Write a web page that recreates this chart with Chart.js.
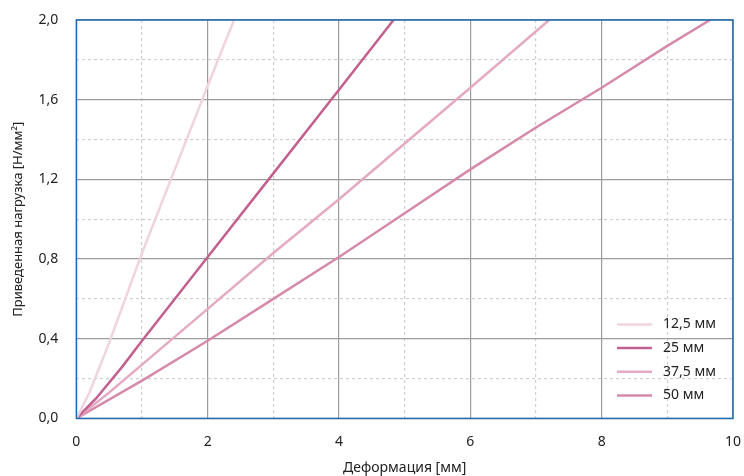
<!DOCTYPE html>
<html>
<head>
<meta charset="utf-8">
<script src="https://cdn.jsdelivr.net/npm/chart.js@4"></script>
<style>
    body { margin: 0; background: #fff; }
    #wrap { width: 744px; height: 476px; }
</style>
</head>
<body>
<div id="wrap"><canvas id="chart"></canvas></div>
<script>
let seriesNames = ['12,5 мм', '25 мм', '37,5 мм', '50 мм'];
let seriesColors = ['#f0d3df', '#c2608f', '#e4aac4', '#d68aab'];

let x125 = [0, 0.2, 0.5, 1, 1.5, 2, 2.4];
let y125 = [0, 0.13, 0.38, 0.83, 1.25, 1.67, 2.0];

let x25 = [0, 0.3, 0.7, 1, 2, 3, 4, 4.83];
let y25 = [0, 0.1, 0.26, 0.39, 0.81, 1.23, 1.65, 2.0];

let x375 = [0, 0.5, 1, 2, 3, 4, 5, 6, 7.2];
let y375 = [0, 0.13, 0.27, 0.55, 0.83, 1.1, 1.38, 1.66, 2.0];

let x50 = [0, 1, 2, 3, 4, 5, 6, 7, 8, 9, 9.65];
let y50 = [0, 0.19, 0.39, 0.6, 0.81, 1.03, 1.25, 1.46, 1.66, 1.87, 2.0];

let xTitle = 'Деформация [мм]';
let yTitle = 'Приведенная нагрузка [Н/мм²]';

const FONT = "'Noto Sans', sans-serif";


function toPoints(xs, ys) {
    let pts = [];
    for (let i = 0; i < xs.length; i++) {
        pts.push({ x: xs[i], y: ys[i] });
    }
    return pts;
}


function getData() {
    let all = [[x125, y125], [x25, y25], [x375, y375], [x50, y50]];
    let datasets = [];
    for (let s = 0; s < all.length; s++) {
        datasets.push({
            label: seriesNames[s],
            data: toPoints(all[s][0], all[s][1]),
            borderColor: seriesColors[s],
            borderWidth: 2.5,
            pointRadius: 0,
            tension: 0,
            fill: false
        });
    }
    return { datasets: datasets };
}


// blue frame round the plot area
const framePlugin = {
    id: 'frame',
    afterDatasetsDraw(chart) {
        const a = chart.chartArea;
        const ctx = chart.ctx;
        ctx.save();
        ctx.strokeStyle = '#1f6cb0';
        ctx.lineWidth = 1.5;
        ctx.strokeRect(a.left, a.top, a.right - a.left, a.bottom - a.top);
        ctx.restore();
    }
};


// legend inside the plot, bottom right
const innerLegend = {
    id: 'innerLegend',
    afterDraw(chart) {
        const a = chart.chartArea;
        const ctx = chart.ctx;
        const sets = chart.data.datasets;
        ctx.save();
        ctx.font = '14px ' + FONT;
        ctx.textBaseline = 'middle';
        ctx.fillStyle = '#222';
        for (let i = 0; i < sets.length; i++) {
            let y = a.bottom - 94 + i * 23.7;
            let x0 = a.right - 116;
            ctx.strokeStyle = sets[i].borderColor;
            ctx.lineWidth = 2.5;
            ctx.beginPath();
            ctx.moveTo(x0, y);
            ctx.lineTo(x0 + 35, y);
            ctx.stroke();
            ctx.fillText(sets[i].label, x0 + 46, y);
        }
        ctx.restore();
    }
};


function gridStyle(isMajor) {
    return isMajor ? '#9c9c9c' : '#cfcfcf';
}


function getOptions() {
    return {
        responsive: true,
        maintainAspectRatio: false,
        animation: false,
        layout: { padding: { top: 20, right: 0, left: 10, bottom: 0 } },
        plugins: {
            legend: { display: false },
            tooltip: { enabled: false }
        },
        scales: {
            x: {
                type: 'linear',
                min: 0,
                max: 10,
                afterFit: (scale) => { scale.paddingRight = 11; },
                ticks: {
                    stepSize: 1,
                    autoSkip: false,
                    maxRotation: 0,
                    padding: 15,
                    color: '#222',
                    font: { family: FONT, size: 14 },
                    callback: (v) => (Math.round(v) % 2 === 0 ? String(v) : '')
                },
                grid: {
                    drawTicks: false,
                    lineWidth: 1.2,
                    color: (c) => gridStyle(Math.round(c.tick.value) % 2 === 0)
                },
                border: {
                    display: false,
                    dash: (c) => (Math.round(c.tick.value) % 2 === 0 ? [] : [3, 3])
                },
                title: {
                    display: true,
                    text: xTitle,
                    color: '#222',
                    font: { family: FONT, size: 14 },
                    padding: { top: -6, bottom: 0 }
                }
            },
            y: {
                type: 'linear',
                min: 0,
                max: 2,
                afterFit: (scale) => { scale.paddingTop = 0; },
                ticks: {
                    stepSize: 0.2,
                    autoSkip: false,
                    padding: 18,
                    color: '#222',
                    font: { family: FONT, size: 14 },
                    callback: (v) => {
                        let k = Math.round(v * 10);
                        return k % 4 === 0 ? (k / 10).toFixed(1).replace('.', ',') : '';
                    }
                },
                grid: {
                    drawTicks: false,
                    lineWidth: 1.2,
                    color: (c) => gridStyle(Math.round(c.tick.value * 10) % 4 === 0)
                },
                border: {
                    display: false,
                    dash: (c) => (Math.round(c.tick.value * 10) % 4 === 0 ? [] : [3, 3])
                },
                title: {
                    display: true,
                    text: yTitle,
                    color: '#222',
                    font: { family: FONT, size: 13 },
                    padding: { top: 0, bottom: -5 }
                }
            }
        }
    };
}


new Chart(document.getElementById('chart'), {
    type: 'line',
    data: getData(),
    options: getOptions(),
    plugins: [framePlugin, innerLegend]
});
</script>
</body>
</html>
